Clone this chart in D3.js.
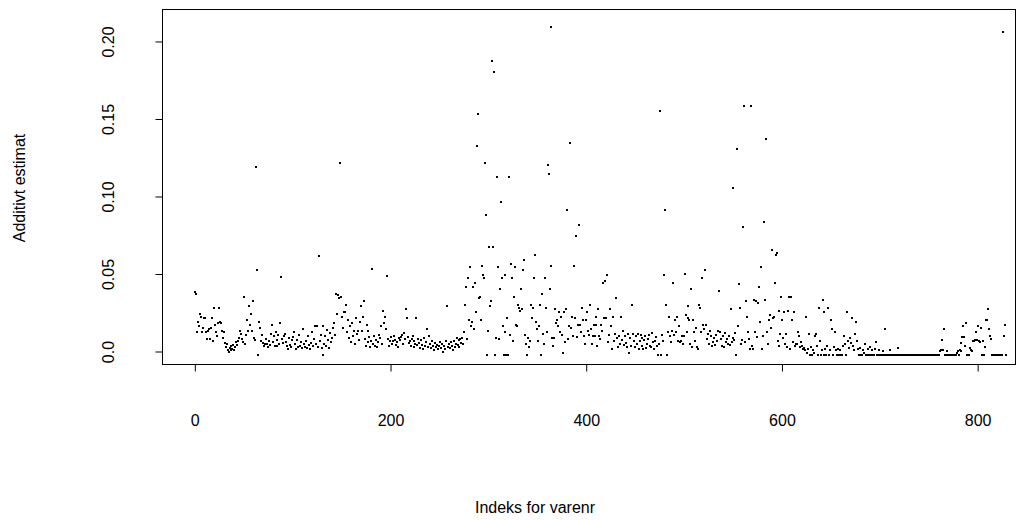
<!DOCTYPE html>
<html>
<head>
<meta charset="utf-8">
<script src="https://cdn.jsdelivr.net/npm/d3@7"></script>
<style>
  html, body { margin: 0; padding: 0; background: #fff; }
  svg { display: block; }
  text { font-family: "Liberation Sans", Arial, Helvetica, sans-serif; fill: #000; }
</style>
</head>
<body>
<svg id="chart" width="1031" height="520"></svg>
<script>
// Additive estimate per item, in item order (index 1..N)
const estimates = [
0.038,0.037,0.012,0.019,0.016,0.024,0.022,0.012,0.015,0.021,
0.021,0.012,0.0077,0.013,0.014,0.008,0.015,0.021,0.0066,0.028,
0.017,0.012,0.010,0.018,0.028,0.019,0.018,0.013,0.0086,0.012,
0.005,0.0028,0.0045,0.0004,-0.0006,0.0017,0.0008,0.0034,0.0015,0.0039,
0.0009,0.0025,0.0055,0.0039,0.0062,0.0084,0.013,0.011,0.0075,0.0055,
0.035,0.0045,0.0105,0.020,0.013,0.029,0.017,0.024,0.013,0.032,
0.0086,0.0073,0.119,0.052,-0.0026,0.019,0.015,0.0062,0.0105,0.005,
0.003,0.0047,0.008,0.0045,0.0025,0.0065,0.0038,0.011,0.017,0.0055,
0.0095,0.003,0.0125,0.0068,0.0032,0.0105,0.0045,0.018,0.048,0.0078,
0.0052,0.0098,0.011,0.006,0.0035,0.0012,0.0085,0.004,0.0025,0.0068,
0.009,0.012,0.0048,0.0015,0.0072,0.0028,0.0105,0.0035,0.0058,0.0018,
0.014,0.0045,0.0028,0.0062,0.0022,0.0095,0.0038,0.0015,0.0052,0.012,
0.0035,0.0078,0.016,0.0045,0.016,0.0028,0.061,0.0062,0.0105,0.0018,
0.016,-0.0026,0.0048,0.0095,0.0032,0.0135,0.0068,0.002,0.0115,0.0055,
0.0085,0.0148,0.018,0.0105,0.037,0.024,0.036,0.034,0.121,0.035,
0.022,0.015,0.025,0.025,0.030,0.012,0.020,0.0085,0.016,0.0055,
0.018,0.0095,0.013,0.0045,0.021,0.011,0.013,0.0068,0.019,0.029,
0.013,0.022,0.032,0.0078,0.0035,0.017,0.013,0.0058,0.0088,0.0025,
0.0065,0.053,0.0048,0.0098,0.0035,0.0072,0.0028,0.0055,0.0105,0.0082,
0.016,0.0045,0.026,0.018,0.022,0.014,0.0486,0.0075,0.0035,0.0065,
0.0088,0.0045,0.0062,0.0098,0.0072,0.0038,0.0055,0.0025,0.0085,0.0068,
0.0092,0.0105,0.0048,0.0115,0.0078,0.027,0.021,0.0088,0.0052,0.0065,
0.0035,0.0075,0.0095,0.0028,0.0062,0.0045,0.021,0.0038,0.0075,0.0052,
0.0022,0.0068,0.0042,0.0015,0.0085,0.0035,0.0055,0.014,0.0028,0.0099,
0.0045,0.0018,0.0065,0.0032,0.0008,0.0052,0.0025,0.0042,0.0012,0.0035,
0.0058,0.0022,0.0045,-0.0005,0.0035,0.0015,0.0065,0.029,0.0028,0.0048,
0.0018,0.0055,0.0035,0.0008,0.0062,0.0025,0.0045,0.0082,0.0038,0.0068,
0.0028,0.0075,0.0052,0.0087,0.0045,0.012,0.030,0.041,0.0075,0.047,
0.020,0.054,0.016,0.019,0.041,0.014,0.044,0.025,0.132,0.153,
0.034,0.035,0.020,0.055,0.049,0.047,0.121,0.088,-0.0026,0.013,
0.067,0.029,0.032,0.187,0.067,0.180,-0.0026,0.0085,0.112,0.054,
0.008,0.040,0.096,0.047,0.016,-0.0026,0.012,0.049,-0.0026,0.021,
-0.0026,0.112,0.0105,0.056,0.047,0.0067,0.035,0.054,0.017,0.016,
0.030,0.028,0.026,0.040,0.027,0.052,0.059,0.0105,0.0048,-0.0026,
0.0085,0.0025,0.0067,0.030,0.021,0.028,0.047,0.062,0.019,0.014,
0.0065,0.016,0.030,-0.0026,0.037,0.011,0.0045,0.047,0.028,0.012,
0.120,0.114,0.040,0.209,0.055,0.0085,0.0035,0.0083,0.027,0.018,
0.020,0.016,0.025,0.012,0.022,0.0105,-0.001,0.025,0.0055,0.027,
0.091,0.0075,0.016,0.134,0.015,0.022,0.0095,0.055,0.021,0.074,
0.009,0.017,0.081,0.017,0.012,0.028,0.020,0.010,0.0045,0.020,
0.025,0.013,0.0105,0.030,0.014,0.0045,0.010,0.017,0.010,0.022,
0.017,0.0035,0.027,0.010,0.0075,0.017,0.013,0.044,0.021,0.045,
0.021,0.049,0.0055,0.0105,0.027,0.016,0.0012,0.022,0.0065,0.011,
0.034,0.0085,0.0025,0.0095,0.0045,0.022,0.0068,0.013,0.0038,0.0095,
0.0052,0.0025,0.011,-0.001,0.0085,0.0035,0.030,0.011,0.0062,0.0028,
0.0095,0.0045,0.011,0.0015,0.0062,0.0105,0.0032,0.0085,0.0012,0.0068,
0.0095,0.0022,0.0045,0.0078,0.0105,0.0035,0.0025,0.0115,0.0058,0.0015,
0.0062,0.0088,0.0032,-0.0026,0.0045,0.155,-0.0026,0.0105,0.0062,0.049,
0.091,0.030,-0.0026,0.0125,0.022,0.0098,0.0055,0.013,0.044,0.0105,
0.020,0.012,0.022,0.0065,0.016,0.0055,0.0062,0.0098,0.0045,0.010,
0.050,0.023,0.012,0.029,0.021,0.020,0.0045,0.040,0.0028,0.020,
0.012,0.0065,0.015,0.0025,0.0015,0.030,0.028,0.012,0.047,0.017,
0.014,0.052,0.017,0.0078,0.011,0.0045,0.013,0.0095,0.0035,0.0058,
0.0085,0.0042,0.0105,0.0065,0.013,0.039,0.012,0.0075,0.0035,0.0098,
0.0025,0.0115,0.0055,0.0078,0.0045,0.0095,0.0038,0.027,0.0055,0.0085,
0.105,0.0068,0.0115,-0.0026,0.130,0.016,0.043,0.028,0.0045,0.0068,
0.080,0.158,0.0055,0.032,0.022,0.012,0.0078,0.0012,0.158,0.0035,
0.0015,0.033,0.012,0.032,0.0092,0.031,0.041,0.019,0.054,0.0015,
0.0098,0.083,0.033,0.137,0.012,0.0048,0.020,0.023,0.015,0.065,
0.021,0.022,0.044,0.062,0.063,0.0065,0.026,0.0035,0.011,0.035,
0.020,0.0085,0.025,0.0045,0.011,0.0025,0.026,0.035,0.0012,0.035,
0.020,0.0055,0.025,0.0032,0.0048,0.0045,0.012,0.010,0.0025,0.0058,
0.0035,0.0012,0.0018,0.0008,0.022,-0.0015,0.0015,0.011,-0.0026,0.0025,
-0.0026,0.0005,-0.0015,0.010,0.011,0.0035,-0.0026,0.028,0.0065,-0.0026,
0.0008,0.033,0.025,-0.0026,0.0012,-0.0026,0.0035,0.028,-0.0026,0.0005,
0.020,0.014,-0.0026,0.0025,0.012,0.0008,-0.0026,0.0015,-0.0026,0.0005,
-0.0026,-0.0026,0.0035,0.010,0.0045,-0.0026,0.025,0.0065,0.0018,0.0085,
0.0052,0.021,0.0035,0.0008,0.011,0.019,0.0062,0.0015,-0.0026,0.0022,
-0.0026,-0.0026,0.0008,-0.0015,0.0045,-0.0026,-0.0026,0.0012,-0.0026,0.0028,
-0.0026,-0.0026,0.0005,-0.0026,-0.0026,0.0012,0.006,-0.0026,-0.0026,0.0008,
-0.0026,-0.0026,-0.0026,0.0002,-0.0026,0.014,-0.0026,-0.0026,-0.0026,-0.0026,
0.0005,-0.0026,-0.0026,-0.0026,-0.0026,-0.0026,-0.0026,-0.0026,0.002,-0.0026,
-0.0026,-0.0026,-0.0026,-0.0026,-0.0026,-0.0026,-0.0026,-0.0026,-0.0026,-0.0026,
-0.0026,-0.0026,-0.0026,-0.0026,-0.0026,-0.0026,-0.0026,-0.0026,-0.0026,-0.0026,
-0.0026,-0.0026,-0.0026,-0.0026,-0.0026,-0.0026,-0.0026,-0.0026,-0.0026,-0.0026,
-0.0026,-0.0026,-0.0026,-0.0026,-0.0026,-0.0026,-0.0026,-0.0026,-0.0026,-0.0026,
-0.0026,0.0,0.0006,0.007,0.0006,0.014,-0.0026,-0.0026,0.0,-0.0026,
-0.0026,-0.0026,-0.0026,-0.0026,-0.0026,-0.0026,-0.0026,-0.0026,-0.001,0.0,
-0.0026,0.0005,0.0,0.005,0.009,0.016,0.009,0.003,0.018,-0.0026,
-0.0026,-0.0026,0.002,0.0008,0.0,0.0065,0.0062,0.0068,0.012,0.007,
0.016,0.0065,0.0058,0.015,-0.0026,0.0065,-0.0026,0.0025,0.020,0.020,
0.027,0.014,0.010,0.008,-0.0026,-0.0026,-0.0026,-0.0026,-0.0026,-0.0026,
-0.0026,-0.0026,-0.0026,-0.0026,-0.0026,0.206,0.010,0.017,-0.0026
];

const xTicks = [0, 200, 400, 600, 800];
const yTicks = [0, 0.05, 0.10, 0.15, 0.20];
const yTickLabels = ["0.0", "0.05", "0.10", "0.15", "0.20"];
const xTitle = "Indeks for varenr";
const yTitle = "Additivt estimat";

// axis limits
const xLim = [-32, 839.7];
const yLim = [-0.0087, 0.2203];

const svg = d3.select("#chart");
const box = { left: 163, right: 1016, top: 9.5, bottom: 364.5 };

const x = d3.scaleLinear().domain(xLim).range([box.left, box.right]);
const y = d3.scaleLinear().domain(yLim).range([box.bottom, box.top]);

const points = estimates.map((v, i) => ({ idx: i + 1, v }));

// points (small squares, like pch = ".")
svg.append("g")
  .selectAll("rect")
  .data(points)
  .join("rect")
  .attr("x", d => Math.round(x(d.idx)) - 1)
  .attr("y", d => Math.round(y(d.v)) - 1)
  .attr("width", 2)
  .attr("height", 2)
  .attr("fill", "#000");

// plot frame
svg.append("rect")
  .attr("x", box.left - 0.5)
  .attr("y", box.top)
  .attr("width", box.right - box.left)
  .attr("height", box.bottom - box.top)
  .attr("fill", "none")
  .attr("stroke", "#000")
  .attr("stroke-width", 1);

// x axis
const xAxis = d3.axisBottom(x).tickValues(xTicks).tickSize(7).tickPadding(43)
  .tickFormat(d3.format("d"));
const gx = svg.append("g")
  .attr("transform", `translate(0.5,${box.bottom})`)
  .call(xAxis);
gx.select(".domain")
  .attr("d", `M${x(xTicks[0])},0H${x(xTicks[xTicks.length - 1])}`);
gx.selectAll("text").style("font-size", "16px")
  .style("font-family", "'Liberation Sans', Arial, sans-serif");

// y axis with labels rotated parallel to the axis
const yAxis = d3.axisLeft(y).tickValues(yTicks).tickSize(7)
  .tickFormat((d, i) => yTickLabels[i]);
const gy = svg.append("g")
  .attr("transform", `translate(${box.left - 0.5},0.5)`)
  .call(yAxis);
gy.select(".domain")
  .attr("d", `M0,${y(yTicks[0])}V${y(yTicks[yTicks.length - 1])}`);
gy.selectAll(".tick text")
  .attr("x", null).attr("dy", null)
  .attr("text-anchor", "middle")
  .attr("transform", "translate(-49,0) rotate(-90)")
  .attr("y", 0)
  .style("font-size", "16px")
  .style("font-family", "'Liberation Sans', Arial, sans-serif");

// axis titles
svg.append("text")
  .attr("x", 535).attr("y", 513)
  .attr("text-anchor", "middle")
  .style("font-size", "16px")
  .text(xTitle);

svg.append("text")
  .attr("transform", "translate(25,188) rotate(-90)")
  .attr("text-anchor", "middle")
  .style("font-size", "16px")
  .text(yTitle);
</script>
</body>
</html>
